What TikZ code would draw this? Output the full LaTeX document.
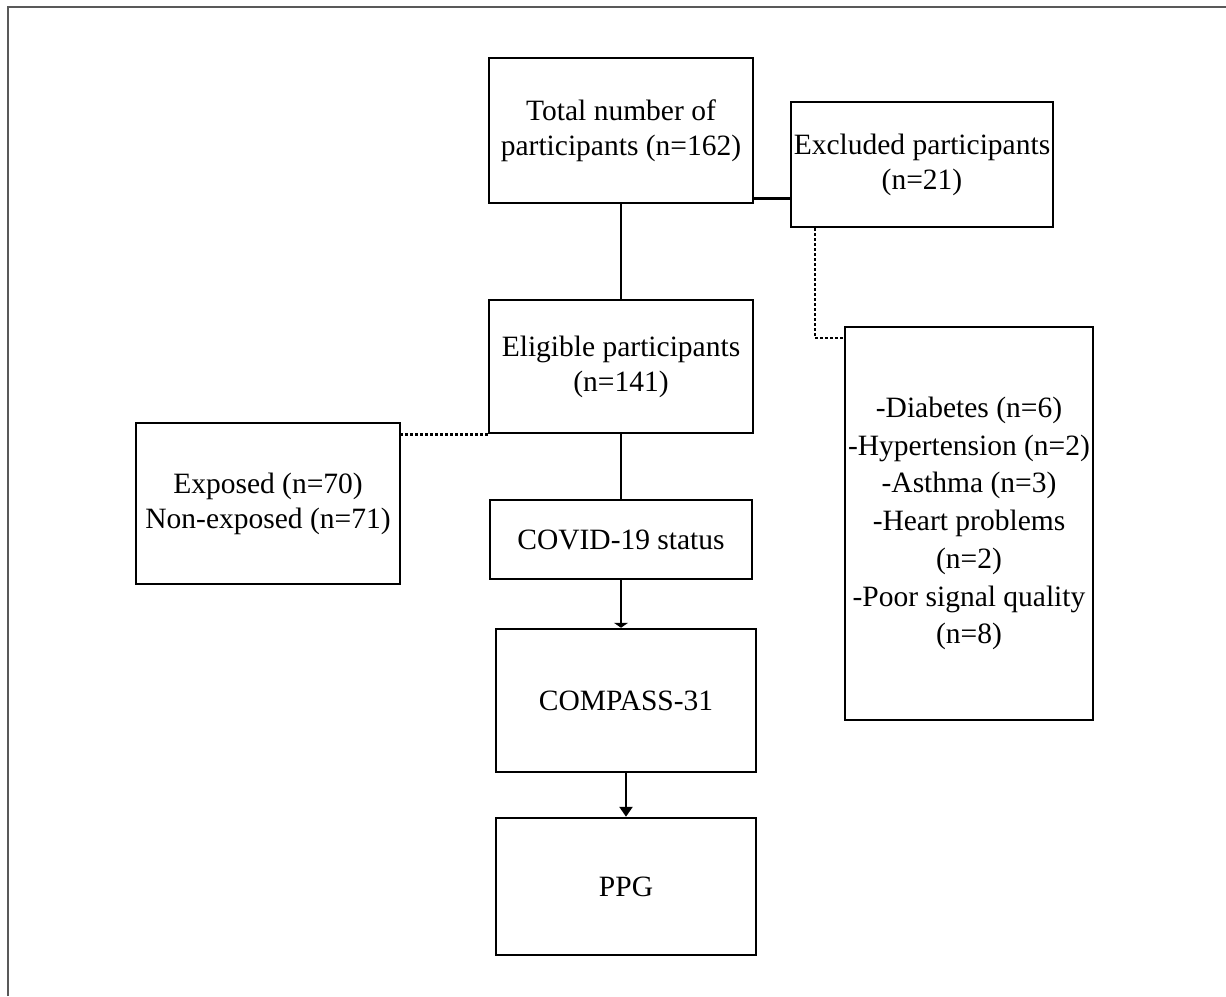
\documentclass[tikz,border=0pt]{standalone}
\usepackage{fontspec}
\setmainfont{Liberation Serif}
\usetikzlibrary{arrows.meta,calc}
\begin{document}
\begin{tikzpicture}[x=1pt,y=-1pt,
  box/.style={draw,line width=2.5pt,rectangle,inner sep=0pt,align=center,font=\fontsize{29.5}{35}\selectfont},
  conn/.style={line width=2.5pt},
  dotconn/.style={line width=2.5pt,dash pattern=on 2.5pt off 2.5pt}]
\useasboundingbox (0,0) rectangle (1226,996);
\draw[line width=2pt,gray!70!black] (8,996) -- (8,7) -- (1226,7);
\node[box,minimum width=264pt,minimum height=145pt] (total) at (621,130.5) {Total number of\\participants (n=162)};
\node[box,minimum width=262pt,minimum height=125pt] (excl) at (922,164.5) {Excluded participants\\(n=21)};
\node[box,minimum width=264pt,minimum height=133pt] (elig) at (621,366.5) {Eligible participants\\(n=141)};
\node[box,minimum width=264pt,minimum height=161pt] (exp) at (268,503.5) {Exposed (n=70)\\Non-exposed (n=71)};
\node[box,minimum width=262pt,minimum height=79pt] (covid) at (621,539.5) {COVID-19 status};
\node[box,minimum width=260pt,minimum height=143pt] (compass) at (626,700.5) {COMPASS-31};
\node[box,minimum width=260pt,minimum height=137pt] (ppg) at (626,886.5) {PPG};
\node[box,minimum width=248pt,minimum height=393pt,font=\fontsize{29.5}{37.7}\selectfont] (list) at (969,523.5) {-Diabetes (n=6)\\-Hypertension (n=2)\\-Asthma (n=3)\\-Heart problems\\(n=2)\\-Poor signal quality\\(n=8)};
\coordinate (tj) at ($(total.south east)+(0,-6)$);
\draw[conn] (tj) -- (tj -| excl.west);
\draw[conn] (total.south) -- (elig.north);
\draw[dotconn] (elig.south west) -- (elig.south west -| exp.east);
\draw[conn] (elig.south) -- (elig.south |- covid.north);
\draw[conn,-{Triangle[width=14pt,length=5pt]}] (covid.south) -- (covid.south |- compass.north);
\draw[conn,-{Triangle[width=13pt,length=10pt]}] (compass.south) -- (ppg.north);
\coordinate (ej) at ($(excl.south west)+(25,0)$);
\coordinate (lj) at ($(list.north west)+(0,12)$);
\draw[dotconn] (ej) |- (lj);
\end{tikzpicture}
\end{document}
